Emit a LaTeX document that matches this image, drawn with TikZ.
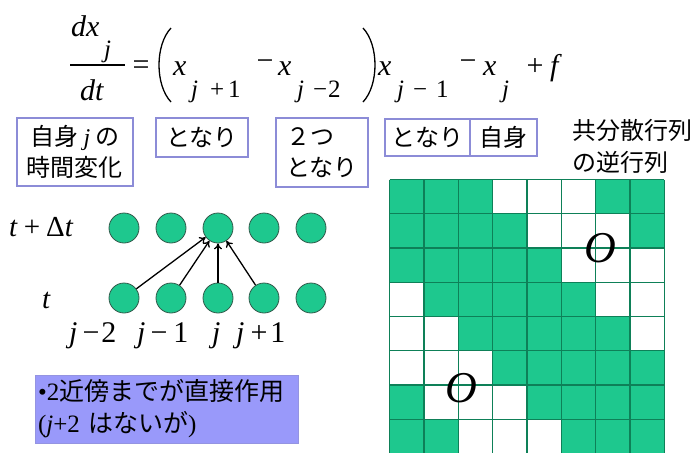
\documentclass[tikz,border=0pt]{standalone}
\usepackage{fontspec}
\setmainfont{Liberation Serif}
\newfontfamily\jp{Noto Sans CJK JP}
\usetikzlibrary{arrows.meta}
\definecolor{cellg}{RGB}{30,200,142}
\definecolor{lineg}{RGB}{14,128,88}
\definecolor{dotline}{RGB}{50,90,75}
\definecolor{boxb}{RGB}{140,140,215}
\definecolor{lav}{RGB}{153,153,250}
\begin{document}
\begin{tikzpicture}[x=1pt,y=-1pt,
  eq/.style={inner sep=0pt,anchor=base west,font=\fontsize{30}{30}\selectfont\itshape},
  sub/.style={inner sep=0pt,anchor=base west,font=\fontsize{25}{25}\selectfont\itshape},
  op/.style={inner sep=0pt,font=\fontsize{30}{30}\selectfont},
  subop/.style={inner sep=0pt,anchor=base west,font=\fontsize{25}{25}\selectfont},
  paren/.style={line width=1.3pt},
  jbox/.style={draw=boxb,line width=1.2pt,fill=white,inner sep=2pt,align=center,
    font=\fontsize{24}{31}\jp},
  dot/.style={circle,draw=dotline,line width=0.8pt,fill=cellg,minimum size=30pt,inner sep=0pt},
  arr/.style={-{To[length=6pt,width=8pt]},line width=1.3pt},
  lab/.style={inner sep=0pt,anchor=base west,font=\fontsize{30}{30}\selectfont},
  bigo/.style={inner sep=0pt,font=\fontsize{44}{44}\selectfont\itshape}]
\useasboundingbox (0,0) rectangle (697,453);

% ---- equation ----
\node[eq] (n1) at (71,36) {dx};
\node[sub] (n2) at (104,57) {j};
\draw[line width=1.2pt] (70,65) -- (125,65);
\node[eq] (n3) at (80,100) {dt};
\node[op] (eqs) at (141,68) {=};
\draw[paren] (171,28) .. controls (155,45) and (155,85) .. (171,102);
\node[eq] (x1) at (173,75) {x};
\node[sub] (s1) at (191,97) {j};
\node[subop] (s1p) at (210,97) {+};
\node[subop] (s1n) at (228,97) {1};
\node[op] (m1) at (265,65) {−};
\node[eq] (x2) at (278,75) {x};
\node[sub] (s2) at (297,97) {j};
\node[subop] (s2m) at (313,97) {−};
\node[subop] (s2n) at (328,97) {2};
\draw[paren] (363,28) .. controls (379,45) and (379,85) .. (363,102);
\node[eq] (x3) at (378,75) {x};
\node[sub] (s3) at (397,97) {j};
\node[subop] (s3m) at (413,97) {−};
\node[subop] (s3n) at (436,97) {1};
\node[op] (m2) at (468,65) {−};
\node[eq] (x4) at (483,75) {x};
\node[sub] (s4) at (502,97) {j};
\node[op] (pl) at (535,67) {+};
\node[eq] (ff) at (550,75) {f};

% ---- boxes ----
\node[jbox,minimum width=116pt,minimum height=68pt] (b1) at (75,152)
  {自身 {\rmfamily\itshape j} の\\時間変化};
\node[jbox,minimum width=92pt,minimum height=39pt] (b2) at (202,137.5) {となり};
\node[jbox,minimum width=92pt,minimum height=69pt,align=left] (b3) at (322,152.5) {２つ\\となり};
\node[jbox,minimum width=85pt,minimum height=37pt] (b4) at (427.5,137.5) {となり};
\node[jbox,minimum width=67pt,minimum height=37pt] (b5) at (503.5,137.5) {自身};
\node[inner sep=0pt,anchor=north west,align=left,font=\fontsize{24}{32}\jp] (cov) at (572,119)
  {共分散行列\\の逆行列};

% ---- grid ----
\fill[cellg] (389.5,179.5) rectangle ++(274.8,274);
\foreach \r/\k in {0/3,0/4,0/5,1/4,1/5,1/6,2/5,2/6,2/7,3/0,3/6,3/7,4/0,4/1,4/7,5/0,5/1,5/2,6/1,6/2,6/3,7/2,7/3,7/4}
  \fill[white] (389.5+\k*34.35,179.5+\r*34.25) rectangle ++(34.35,34.25);
\foreach \i in {0,...,8} {
  \draw[draw=lineg,line width=1.3pt] (389.5+\i*34.35,179.5) -- ++(0,274);
  \draw[draw=lineg,line width=1.3pt] (389.5,179.5+\i*34.25) -- ++(274.8,0);
}
\node[bigo] (o1) at (600,248) {O};
\node[bigo] (o2) at (461,388) {O};

% ---- dots ----
\foreach \k/\xx in {1/124,2/171,3/218,4/264,5/311} {
  \node[dot] (u\k) at (\xx,228) {};
  \node[dot] (d\k) at (\xx,298) {};
}
\draw[arr] (d1) -- (u3);
\draw[arr] (d2) -- (u3);
\draw[arr] (d3) -- (u3);
\draw[arr] (d4) -- (u3);

\node[lab,font=\fontsize{29}{29}\selectfont] (tdt) at (9,236) {\textit{t}\hspace{6pt}+\hspace{6pt}Δ\textit{t}};
\node[lab,font=\fontsize{29}{29}\selectfont] (tt) at (42,308) {\textit{t}};
\node[lab] (j1) at (69,342) {\textit{j}\hspace{5pt}−\hspace{2pt}2};
\node[lab] (j2) at (137,342) {\textit{j}\hspace{5pt}−\hspace{6pt}1};
\node[lab] (j3) at (212,342) {\textit{j}};
\node[lab] (j4) at (236,342) {\textit{j}\hspace{6pt}+\hspace{3pt}1};

% ---- note ----
\node[fill=lav,draw=lav!80!gray,line width=0.5pt,minimum width=263pt,minimum height=68pt,
  inner sep=3pt,text width=257pt,align=left,font=\fontsize{25}{32}\jp] (note) at (166.5,409)
  {{\rmfamily •2}近傍までが直接作用\\{\rmfamily (\textit{j}+2} はないが{\rmfamily )}};
\end{tikzpicture}
\end{document}
